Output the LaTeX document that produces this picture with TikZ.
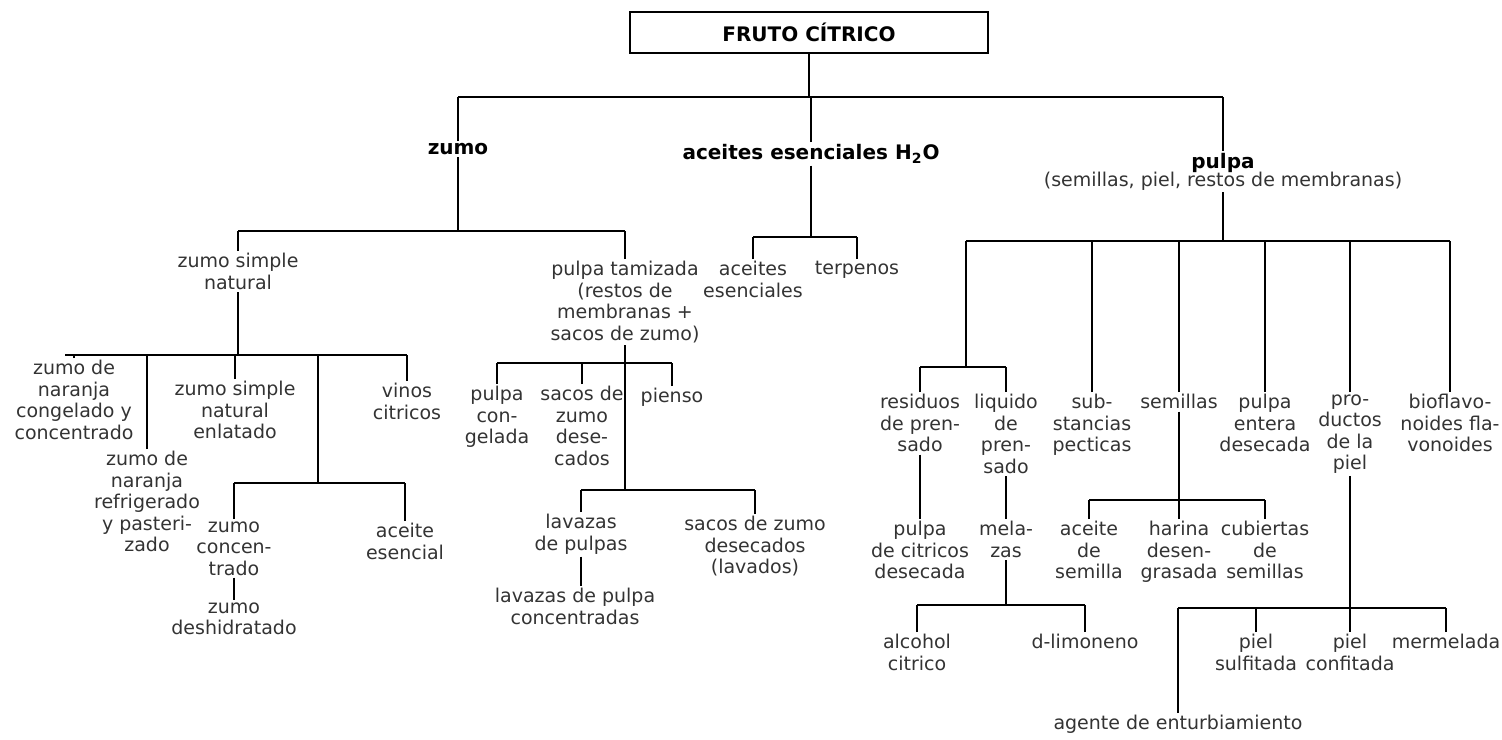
\documentclass[tikz,border=0pt]{standalone}
\usepackage{fontspec}
\setmainfont{DejaVu Sans}
\usetikzlibrary{calc}
\tikzstyle{rootnode} = [rectangle, 
minimum width=179pt, 
minimum height=20.5pt, 
draw=black, 
line width=0.9pt, 
font=\fontsize{10}{11}\selectfont\bfseries]
\tikzstyle{head} = [anchor=north, yshift=5.5pt, inner sep=1pt, align=center, font=\fontsize{10}{10.75}\selectfont\bfseries]
\tikzstyle{prod} = [anchor=north, yshift=5.5pt, inner sep=1pt, align=center, text=black!80, font=\fontsize{9.5}{10.75}\selectfont]
\tikzstyle{bar} = [line width=1.1pt]
\tikzstyle{link} = [line width=0.6pt]

\begin{document}
\begin{tikzpicture}[x=0.5pt, y=-0.5pt]
    \useasboundingbox (0,0) rectangle (1502,739);

    \node (root) [rootnode] at (809,32.5) {FRUTO CÍTRICO};

    % First level
    \node (zumo) [head] at (458,152) {zumo};
    \node (acei) [head] at (811,153) {aceites esenciales H\textsubscript{2}O};
    \node (pulpa) [head] at (1223,162) {pulpa\\[-2pt]\textcolor{black!80}{\fontsize{9.5}{10.75}\selectfont\mdseries (semillas, piel, restos de membranas)}};

    % zumo
    \node (zss) [prod] at (238,262) {zumo simple\\natural};
    \node (ptam) [prod] at (625,270) {pulpa tamizada\\(restos de\\membranas +\\sacos de zumo)};
    \node (zcong) [prod] at (74,369) {zumo de\\naranja\\congelado y\\concentrado};
    \node (zrefr) [prod] at (147,460) {zumo de\\naranja\\refrigerado\\y pasteri-\\zado};
    \node (zenl) [prod] at (235,390) {zumo simple\\natural\\enlatado};
    \node (vinos) [prod] at (407,392) {vinos\\citricos};
    \node (zconc) [prod] at (234,530) {zumo\\concen-\\trado};
    \node (zdesh) [prod] at (234,611) {zumo\\deshidratado};
    \node (aesen) [prod] at (405,532) {aceite\\esencial};
    \node (pcong) [prod] at (497,395) {pulpa\\con-\\gelada};
    \node (sdes) [prod] at (582,395) {sacos de\\zumo\\dese-\\cados};
    \node (pienso) [prod] at (672,397) {pienso};
    \node (lav) [prod] at (581,523) {lavazas\\de pulpas};
    \node (lavc) [prod] at (575,597) {lavazas de pulpa\\concentradas};
    \node (sdlav) [prod] at (755,525) {sacos de zumo\\desecados\\(lavados)};

    % aceites esenciales
    \node (aes) [prod] at (753,270) {aceites\\esenciales};
    \node (terp) [prod] at (857,270) {terpenos};

    % pulpa
    \node (resid) [prod] at (920,403) {residuos\\de pren-\\sado};
    \node (liq) [prod] at (1006,403) {liquido\\de\\pren-\\sado};
    \node (pect) [prod] at (1092,403) {sub-\\stancias\\pecticas};
    \node (semi) [prod] at (1179,403) {semillas};
    \node (pent) [prod] at (1265,403) {pulpa\\entera\\desecada};
    \node (ppiel) [prod] at (1350,403) {pro-\\ductos\\de la\\piel};
    \node (biof) [prod] at (1450,403) {bioflavo-\\noides fla-\\vonoides};
    \node (pcdes) [prod] at (920,530) {pulpa\\de citricos\\desecada};
    \node (melaz) [prod] at (1006,530) {mela-\\zas};
    \node (acsem) [prod] at (1089,530) {aceite\\de\\semilla};
    \node (harina) [prod] at (1179,530) {harina\\desen-\\grasada};
    \node (cubsem) [prod] at (1265,530) {cubiertas\\de\\semillas};
    \node (alcoh) [prod] at (917,643) {alcohol\\citrico};
    \node (dlim) [prod] at (1085,643) {d-limoneno};
    \node (psulf) [prod] at (1256,643) {piel\\sulfitada};
    \node (pconf) [prod] at (1350,643) {piel\\confitada};
    \node (merm) [prod] at (1446,643) {mermelada};
    \node (agente) [prod] at (1178,724) {agente de enturbiamiento};

    % Bars
    \coordinate (topL) at (458,97);
    \coordinate (topR) at (1223,97);
    \coordinate (zbarL) at (238,231);
    \coordinate (zbarR) at (625,231);
    \coordinate (abarL) at (753,237);
    \coordinate (abarR) at (857,237);
    \coordinate (pbarL) at (966,241);
    \coordinate (pbarR) at (1450,241);
    \coordinate (sbarL) at (65,355);
    \coordinate (sbarR) at (407,355);
    \coordinate (cjun) at (318,355);
    \coordinate (cbarL) at (234,483);
    \coordinate (cbarR) at (405,483);
    \coordinate (tbarL) at (497,363);
    \coordinate (tbarR) at (672,363);
    \coordinate (ubarL) at (581,490);
    \coordinate (ubarR) at (755,490);
    \coordinate (rbarL) at (920,367);
    \coordinate (rbarR) at (1006,367);
    \coordinate (sbL) at (1089,500);
    \coordinate (sbR) at (1265,500);
    \coordinate (mbL) at (917,605);
    \coordinate (mbR) at (1085,605);
    \coordinate (kbL) at (1178,608);
    \coordinate (kbR) at (1446,608);

    \draw [bar] (topL) -- (topR);
    \draw [bar] (zbarL) -- (zbarR);
    \draw [bar] (abarL) -- (abarR);
    \draw [bar] (pbarL) -- (pbarR);
    \draw [bar] (sbarL) -- (sbarR);
    \draw [bar] (cbarL) -- (cbarR);
    \draw [bar] (tbarL) -- (tbarR);
    \draw [bar] (ubarL) -- (ubarR);
    \draw [bar] (rbarL) -- (rbarR);
    \draw [bar] (sbL) -- (sbR);
    \draw [bar] (mbL) -- (mbR);
    \draw [bar] (kbL) -- (kbR);

    % Top level links
    \draw [link] (root.south) -- (root.south |- topL);
    \draw [link] (zumo.north) -- (zumo.north |- topL);
    \draw [link] (acei.north) -- (acei.north |- topL);
    \draw [link] (pulpa.north) -- (pulpa.north |- topL);

    % zumo links
    \draw [link] (zumo.south) -- (zumo.south |- zbarL);
    \draw [link] (zss.north) -- (zss.north |- zbarL);
    \draw [link] (ptam.north) -- (ptam.north |- zbarL);
    \draw [link] (zss.south) -- (zss.south |- sbarL);
    \draw [link] (zcong.north) -- (zcong.north |- sbarL);
    \draw [link] (zrefr.north) -- (zrefr.north |- sbarL);
    \draw [link] (zenl.north) -- (zenl.north |- sbarL);
    \draw [link] (vinos.north) -- (vinos.north |- sbarL);
    \draw [link] (cjun) -- (cjun |- cbarL);
    \draw [link] (zconc.north) -- (zconc.north |- cbarL);
    \draw [link] (aesen.north) -- (aesen.north |- cbarL);
    \draw [link] (zconc.south) -- (zconc.south |- zdesh.north);
    \draw [link] (ptam.south) -- (ptam.south |- ubarL);
    \draw [link] (pcong.north) -- (pcong.north |- tbarL);
    \draw [link] (sdes.north) -- (sdes.north |- tbarL);
    \draw [link] (pienso.north) -- (pienso.north |- tbarL);
    \draw [link] (lav.north) -- (lav.north |- ubarL);
    \draw [link] (sdlav.north) -- (sdlav.north |- ubarL);
    \draw [link] (lav.south) -- (lav.south |- lavc.north);

    % aceites links
    \draw [link] (acei.south) -- (acei.south |- abarL);
    \draw [link] (aes.north) -- (aes.north |- abarL);
    \draw [link] (terp.north) -- (terp.north |- abarL);

    % pulpa links
    \draw [link] (pulpa.south) -- (pulpa.south |- pbarL);
    \draw [link] (pbarL) -- (pbarL |- rbarL);
    \draw [link] (resid.north) -- (resid.north |- rbarL);
    \draw [link] (liq.north) -- (liq.north |- rbarL);
    \draw [link] (pect.north) -- (pect.north |- pbarL);
    \draw [link] (semi.north) -- (semi.north |- pbarL);
    \draw [link] (pent.north) -- (pent.north |- pbarL);
    \draw [link] (ppiel.north) -- (ppiel.north |- pbarL);
    \draw [link] (biof.north) -- (biof.north |- pbarL);
    \draw [link] (resid.south) -- (resid.south |- pcdes.north);
    \draw [link] (liq.south) -- (liq.south |- melaz.north);
    \draw [link] (melaz.south) -- (melaz.south |- mbL);
    \draw [link] (alcoh.north) -- (alcoh.north |- mbL);
    \draw [link] (dlim.north) -- (dlim.north |- mbL);
    \draw [link] (semi.south) -- (semi.south |- sbL);
    \draw [link] (acsem.north) -- (acsem.north |- sbL);
    \draw [link] (harina.north) -- (harina.north |- sbL);
    \draw [link] (cubsem.north) -- (cubsem.north |- sbL);
    \draw [link] (ppiel.south) -- (ppiel.south |- pconf.north);
    \draw [link] (psulf.north) -- (psulf.north |- kbL);
    \draw [link] (merm.north) -- (merm.north |- kbL);
    \draw [link] (agente.north) -- (agente.north |- kbL);
\end{tikzpicture}
\end{document}
